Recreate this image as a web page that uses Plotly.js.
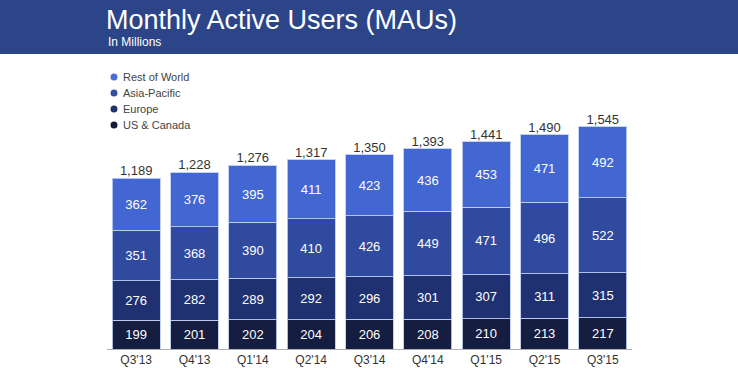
<!DOCTYPE html>
<html><head><meta charset="utf-8">
<script src="https://cdn.plot.ly/plotly-3.0.1.min.js"></script>
<style>html,body{margin:0;padding:0;background:#fff;}#c{width:738px;height:368px;}</style>
</head><body><div id="c"></div>
<script>
const quarters = ["Q3'13","Q4'13","Q1'14","Q2'14","Q3'14","Q4'14","Q1'15","Q2'15","Q3'15"];
const usCanada = [199,201,202,204,206,208,210,213,217];
const europe = [276,282,289,292,296,301,307,311,315];
const asiaPacific = [351,368,390,410,426,449,471,496,522];
const restOfWorld = [362,376,395,411,423,436,453,471,492];
const totals = [1189,1228,1276,1317,1350,1393,1441,1490,1545];
const legendNames = ['Rest of World','Asia-Pacific','Europe','US & Canada'];

const colors = {us:'#151d40', eu:'#1f3170', ap:'#2f4a9e', row:'#4266d2'};
const legendColors = ['#4a70d8','#33509f','#20326f','#141b3a'];
const font = "Liberation Sans, Arial, sans-serif";
const segLine = {color:'rgba(190,205,240,0.9)', width:1};

function barTrace(name, vals, color){
  return {type:'bar', name:name, x:quarters, y:vals, marker:{color:color, line:segLine},
    text:vals.map(String), textposition:'inside', insidetextanchor:'middle',
    textfont:{color:'#ffffff', size:13, family:font}, showlegend:false, hoverinfo:'y', width:0.82};
}
const data = [
  barTrace('US & Canada', usCanada, colors.us),
  barTrace('Europe', europe, colors.eu),
  barTrace('Asia-Pacific', asiaPacific, colors.ap),
  barTrace('Rest of World', restOfWorld, colors.row),
  {type:'scatter', mode:'text', x:quarters, y:totals,
   text:totals.map(v=>v.toLocaleString('en-US')), textposition:'top center',
   textfont:{size:13, color:'#333333', family:font}, showlegend:false, hoverinfo:'skip', cliponaxis:false}
];

const plotTop = 60, plotBottom = 349, plotLeft = 107, plotRight = 632;
const pw = plotRight - plotLeft, ph = plotBottom - plotTop;
const px = x => (x - plotLeft)/pw;
const py = y => (plotBottom - y)/ph;

const shapes = [{type:'rect', xref:'paper', yref:'paper', x0:px(0), x1:px(738),
    y0:py(54), y1:py(-2), fillcolor:'#2c4588', line:{width:0}, layer:'below'}];
const annotations = [{text:'In Millions', xref:'paper', yref:'paper', x:px(106), xanchor:'left',
    y:py(42), yanchor:'middle', showarrow:false, font:{size:12, color:'#ffffff', family:font}}];
legendNames.forEach((name, i) => {
  const cy = 77 + i*16;
  shapes.push({type:'circle', xref:'paper', yref:'paper', xsizemode:'pixel', ysizemode:'pixel',
    xanchor:px(114), yanchor:py(cy), x0:-3.5, x1:3.5, y0:-3.5, y1:3.5,
    fillcolor:legendColors[i], line:{width:0}});
  annotations.push({text:name, xref:'paper', yref:'paper', x:px(121), xanchor:'left',
    y:py(cy), yanchor:'middle', showarrow:false, font:{size:11, color:'#444444', family:font}});
});

const layout = {
  width:738, height:368,
  margin:{l:plotLeft, r:738-plotRight, t:plotTop, b:368-plotBottom, autoexpand:false},
  paper_bgcolor:'#ffffff', plot_bgcolor:'#ffffff',
  barmode:'stack', showlegend:false,
  font:{family:font, color:'#333333'},
  title:{text:'Monthly Active Users (MAUs)', font:{size:27, color:'#ffffff', family:font},
    xref:'container', yref:'container', x:106/738, xanchor:'left', y:1-20/368, yanchor:'middle'},
  xaxis:{type:'category', range:[-0.5,8.5], showline:true, linecolor:'#b0b0b0', linewidth:1,
    ticks:'', showgrid:false, zeroline:false, tickfont:{size:12, color:'#333333', family:font}, fixedrange:true},
  yaxis:{range:[0, ph/0.1437], visible:false, showgrid:false, zeroline:false, fixedrange:true},
  shapes:shapes,
  annotations:annotations
};
Plotly.newPlot('c', data, layout, {displayModeBar:false, staticPlot:true});
</script></body></html>
